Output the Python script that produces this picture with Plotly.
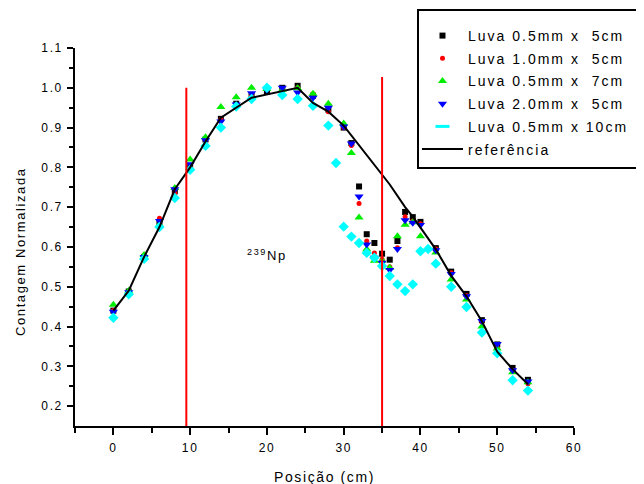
import plotly.graph_objects as go

# ---------------- data ----------------
x_main = [0, 2, 4, 6, 8, 10, 12, 14, 16, 18, 20, 22, 24, 26, 28, 30,
          31, 32, 33, 34, 35, 36, 37, 38, 39, 40, 42, 44, 46, 48, 50, 52, 54]
luva_05_5 = [0.44, 0.488, 0.575, 0.66, 0.74, 0.80, 0.87, 0.922, 0.96, 0.98, 0.99, 1.0, 1.005, 0.98, 0.945, 0.90,
             0.861, 0.752, 0.632, 0.61, 0.583, 0.568, 0.615, 0.688, 0.675, 0.663, 0.597, 0.538, 0.482, 0.416, 0.355, 0.296, 0.266]
luva_10_5 = [0.44, 0.488, 0.578, 0.672, 0.735, 0.80, 0.87, 0.92, 0.955, 0.98, 0.995, 0.998, 1.0, 0.985, 0.94, 0.90,
             0.855, 0.709, 0.615, 0.585, 0.569, 0.55, 0.598, 0.676, 0.665, 0.658, 0.595, 0.535, 0.478, 0.412, 0.348, 0.29, 0.256]
luva_05_7 = [0.455, 0.49, 0.58, 0.656, 0.748, 0.82, 0.876, 0.952, 0.976, 1.0, 0.997, 0.995, 0.999, 0.985, 0.96, 0.91,
             0.836, 0.674, 0.594, 0.565, 0.566, 0.548, 0.627, 0.656, 0.662, 0.627, 0.586, 0.518, 0.468, 0.40, 0.345, 0.285, 0.26]
luva_20_5 = [0.437, 0.486, 0.575, 0.665, 0.745, 0.808, 0.868, 0.915, 0.958, 0.986, 0.995, 1.0, 0.988, 0.975, 0.95, 0.903,
             0.86, 0.727, 0.606, 0.573, 0.56, 0.542, 0.595, 0.667, 0.661, 0.655, 0.592, 0.532, 0.476, 0.414, 0.356, 0.29, 0.262]

x_cyan = [0, 2, 4, 6, 8, 10, 12, 14, 16, 18, 20, 22, 24, 26, 28, 29, 30, 31, 32, 33, 34, 35,
          36, 37, 38, 39, 40, 41, 42, 44, 46, 48, 50, 52, 54]
luva_05_10 = [0.422, 0.481, 0.57, 0.65, 0.723, 0.794, 0.854, 0.90, 0.953, 0.972, 1.0, 0.982, 0.972, 0.955, 0.905, 0.811,
              0.651, 0.626, 0.61, 0.585, 0.573, 0.552, 0.527, 0.506, 0.489, 0.506, 0.589, 0.595, 0.558, 0.50, 0.449,
              0.385, 0.333, 0.265, 0.239]

x_ref = [0, 2, 4, 6, 8, 10, 12, 14, 18, 24, 26, 28, 30, 36, 38, 39, 42, 44, 46, 48, 50, 52, 54]
referencia = [0.44, 0.49, 0.575, 0.65, 0.745, 0.80, 0.865, 0.925, 0.975, 1.0, 0.962, 0.94, 0.905, 0.757, 0.70,
              0.676, 0.594, 0.528, 0.476, 0.413, 0.337, 0.293, 0.255]

limits_x = [9.5, 35]
limits_top = [1.0, 1.027]

x_ticks = [0, 10, 20, 30, 40, 50, 60]
x_minor = [-5, 5, 15, 25, 35, 45, 55]
y_ticks = [0.2, 0.3, 0.4, 0.5, 0.6, 0.7, 0.8, 0.9, 1.0, 1.1]
y_ticktext = ["0.2", "0.3", "0.4", "0.5", "0.6", "0.7", "0.8", "0.9", "1.0", "1.1"]
y_minor = [0.25, 0.35, 0.45, 0.55, 0.65, 0.75, 0.85, 0.95, 1.05]

FONT = "Arial, Liberation Sans, sans-serif"
NB = "\u00a0"

# plot area in figure pixels (page has an 8px body margin)
L, R, T, B = 67, 566, 40, 418
PW, PH = R - L, B - T


def px_x(p):
    return (p - L) / PW


def px_y(p):
    return (B - p) / PH


fig = go.Figure()

series = [
    (f"Luva 0.5mm x{NB}{NB}5cm", x_main, luva_05_5, "square", "black", 6),
    (f"Luva 1.0mm x{NB}{NB}5cm", x_main, luva_10_5, "circle", "red", 5),
    (f"Luva 0.5mm x{NB}{NB}7cm", x_main, luva_05_7, "triangle-up", "#00ee00", 8),
    (f"Luva 2.0mm x{NB}{NB}5cm", x_main, luva_20_5, "triangle-down", "blue", 8),
]
for i, (name, xs, ys, sym, col, sz) in enumerate(series):
    fig.add_trace(go.Scatter(x=xs, y=ys, mode="markers", name=name, legendgroup=f"g{i}",
                             marker=dict(symbol=sym, color=col, size=sz, line=dict(width=0))))

fig.add_trace(go.Scatter(x=x_cyan, y=luva_05_10, mode="markers", name="Luva 0.5mm x 10cm",
                         showlegend=False,
                         marker=dict(symbol="diamond", color="cyan", size=8, line=dict(width=0))))
fig.add_trace(go.Scatter(x=[None], y=[None], mode="markers", name="Luva 0.5mm x 10cm", legendgroup="g4",
                         marker=dict(symbol="line-ew", color="cyan", size=10, line=dict(width=3, color="cyan"))))

fig.add_trace(go.Scatter(x=x_ref, y=referencia, mode="lines", name="referência", legendgroup="g5",
                         line=dict(color="black", width=2)))

for xv, yt in zip(limits_x, limits_top):
    fig.add_shape(type="line", xref="x", yref="y", x0=xv, x1=xv, y0=0.15, y1=yt,
                  line=dict(color="red", width=2))

# legend box
fig.add_shape(type="rect", xref="paper", yref="paper",
              x0=px_x(410), x1=px_x(700), y0=px_y(160), y1=px_y(2),
              line=dict(color="black", width=2), fillcolor="rgba(0,0,0,0)", layer="above")

fig.add_annotation(x=17.6, y=0.581, xref="x", yref="y", text="<sup>239</sup>Np", showarrow=False,
                   xanchor="left", yanchor="middle", font=dict(family=FONT, size=13, color="black"))

# y axis title
fig.add_annotation(x=px_x(12), y=px_y(244), xref="paper", yref="paper", text="Contagem Normalizada",
                   textangle=-90, showarrow=False, xanchor="center", yanchor="middle",
                   font=dict(family=FONT, size=13, color="black"))

fig.update_layout(
    width=644, height=484,
    margin=dict(l=L, r=644 - R, t=T, b=484 - B, autoexpand=False),
    plot_bgcolor="white", paper_bgcolor="white",
    font=dict(family=FONT, color="black"),
    showlegend=True,
    legend=dict(x=px_x(409), y=px_y(12), xanchor="left", yanchor="top",
                bgcolor="rgba(0,0,0,0)", borderwidth=0, tracegroupgap=1.5,
                font=dict(family=FONT, size=14, color="black"), itemwidth=41),
    xaxis=dict(range=[-5, 60], tickmode="array", tickvals=x_ticks,
               showline=True, linecolor="black", linewidth=1.5, ticks="outside", ticklen=7,
               tickwidth=1.5, tickcolor="black", showgrid=False, zeroline=False,
               tickfont=dict(family=FONT, size=12), ticklabelstandoff=3,
               minor=dict(tickmode="array", tickvals=x_minor, ticks="outside",
                          ticklen=5, tickwidth=1.5, tickcolor="black", showgrid=False),
               title=dict(text="Posição (cm)", font=dict(family=FONT, size=14), standoff=18)),
    yaxis=dict(range=[0.15, 1.1], tickmode="array", tickvals=y_ticks, ticktext=y_ticktext,
               showline=True, linecolor="black", linewidth=1.5, ticks="outside", ticklen=6,
               tickwidth=1.5, tickcolor="black", showgrid=False, zeroline=False,
               tickfont=dict(family=FONT, size=12), ticklabelstandoff=2,
               minor=dict(tickmode="array", tickvals=y_minor,
                          ticks="outside", ticklen=4, tickwidth=1.5, tickcolor="black", showgrid=False)),
)

post = ("var s=document.createElement('style');"
        "s.innerHTML='.main-svg text{letter-spacing:1.6px} .main-svg text.legendtext{letter-spacing:2px}';"
        "document.head.appendChild(s);"
        "var gd=document.getElementById('{plot_id}');"
        "gd.querySelectorAll('.legend .scrollbox, .legend').forEach(function(e){e.removeAttribute('clip-path');});")
fig.write_html("out.html", post_script=post)
